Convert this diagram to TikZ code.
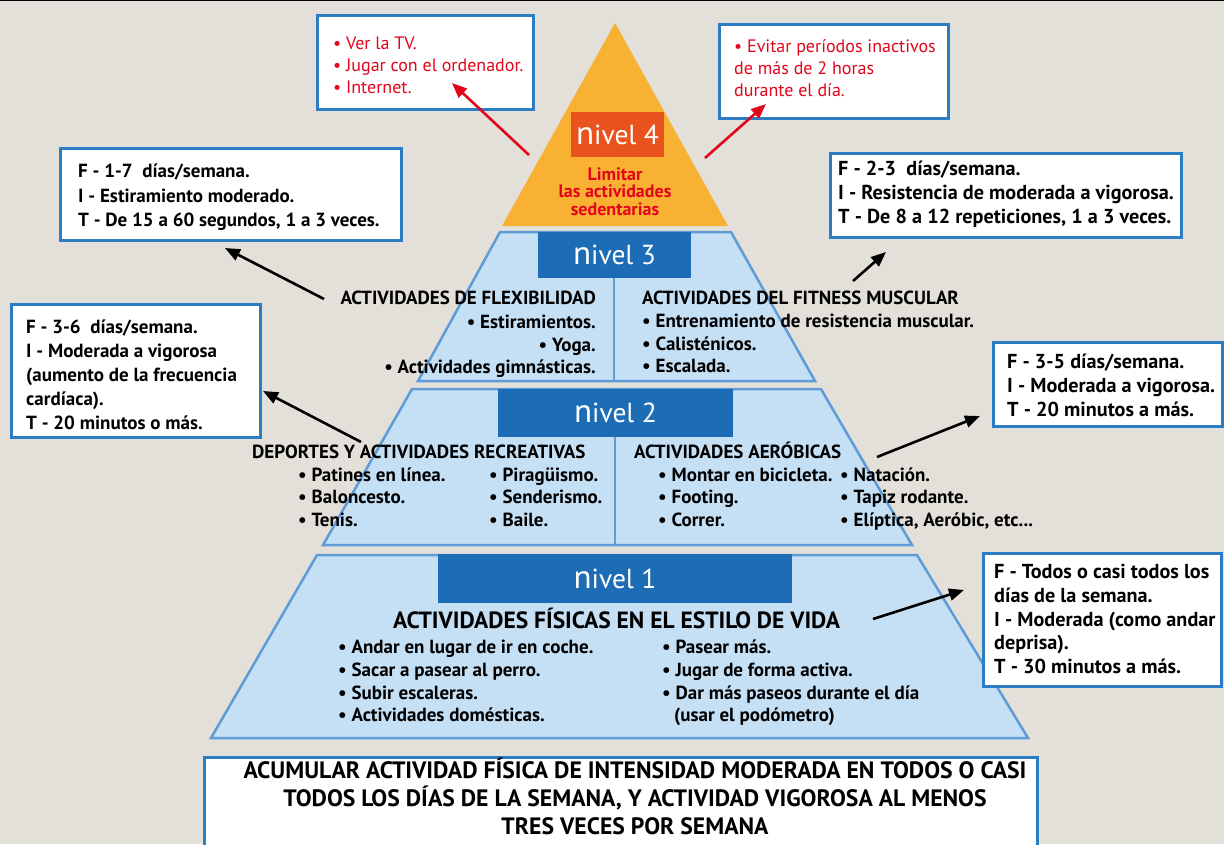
\documentclass[tikz,border=0pt]{standalone}
\usepackage{fontspec}
\setmainfont{PT Sans}
\usetikzlibrary{arrows.meta}
\definecolor{bgc}{HTML}{E3E0D9}
\definecolor{pyrfill}{HTML}{C5DFF4}
\definecolor{pyrline}{HTML}{5F9BD7}
\definecolor{nvblue}{HTML}{1C6DB6}
\definecolor{orng}{HTML}{F8B133}
\definecolor{nvred}{HTML}{E9531D}
\definecolor{redtxt}{HTML}{E3051B}
\definecolor{boxline}{HTML}{2D7DC4}
\newcommand\nivtxt[1]{{\fontsize{33}{33}\selectfont n}ivel #1}
\tikzset{
  callout/.style={draw=boxline, line width=3pt, fill=white, inner sep=0},
  lvl/.style={draw=pyrline, line width=2.5pt, fill=pyrfill, line join=miter},
  nvbox/.style={fill=nvblue, inner sep=0, text=white, font=\fontsize{27.5}{27.5}\selectfont},
  tb/.style={inner sep=0, text=black, font=\bfseries\fontsize{19}{19}\selectfont},
  tc/.style={inner sep=0, text=black, font=\bfseries\fontsize{19}{19}\selectfont},
  tw/.style={inner sep=0, text=black, font=\bfseries\fontsize{20.2}{20.2}\selectfont},
  tr/.style={inner sep=0, text=redtxt, font=\fontsize{18}{18}\selectfont},
  bw/.style={anchor=base west},
  be/.style={anchor=base east},
  bc/.style={anchor=base},
  arr/.style={-{Triangle[length=15pt,width=12pt]}, line width=2.6pt, black},
  rarr/.style={-{Triangle[length=15pt,width=12pt]}, line width=2.6pt, redtxt},
}
\begin{document}
\begin{tikzpicture}[x=1pt,y=-1pt]
\clip (0,0) rectangle (1224,844);
\fill[bgc] (0,0) rectangle (1224,844);
\draw[black, line width=2pt] (0,0) -- (1224,0);

% pyramid
\fill[orng] (615,23) -- (728,226) -- (502,226) -- cycle;
\draw[lvl] (500,232) -- (731,232) -- (815,381) -- (418,381) -- cycle;
\draw[lvl] (412,389) -- (821,389) -- (912,545) -- (323,545) -- cycle;
\draw[lvl] (317,555) -- (917,555) -- (1028,738) -- (211,738) -- cycle;
\draw[pyrline, line width=2pt] (614,278) -- (614,381);
\draw[pyrline, line width=2pt] (615,437) -- (615,545);

% nivel boxes
\node[nvbox, fill=nvred, minimum width=93, minimum height=45] (n4) at (617.5,134.5) {\nivtxt{4}};
\node[nvbox, minimum width=153, minimum height=46] (n3) at (614.5,255) {\nivtxt{3}};
\node[nvbox, minimum width=235, minimum height=48] (n2) at (615.5,413) {\nivtxt{2}};
\node[nvbox, minimum width=354, minimum height=49] (n1) at (615,578.5) {\nivtxt{1}};

% level 4 text
\node[tb, bc, text=redtxt, font=\bfseries\fontsize{18}{18}\selectfont] (l4a) at (615,180) {Limitar};
\node[tb, bc, text=redtxt, font=\bfseries\fontsize{18}{18}\selectfont] (l4b) at (615,197) {las actividades};
\node[tb, bc, text=redtxt, font=\bfseries\fontsize{18}{18}\selectfont] (l4c) at (615,215) {sedentarias};

% level 3 text
\node[tb, be] (l3l0) at (596,304) {ACTIVIDADES DE FLEXIBILIDAD};
\node[tb, be] (l3l1) at (596,328) {• Estiramientos.};
\node[tb, be] (l3l2) at (596,351) {• Yoga.};
\node[tb, be] (l3l3) at (596,373) {• Actividades gimnásticas.};
\node[tb, bw] (l3r0) at (642,304) {ACTIVIDADES DEL FITNESS MUSCULAR};
\node[tb, bw] (l3r1) at (642,327) {• Entrenamiento de resistencia muscular.};
\node[tb, bw] (l3r2) at (642,350) {• Calisténicos.};
\node[tb, bw] (l3r3) at (642,372) {• Escalada.};

% level 2 text
\node[tc, bw] (l2l0) at (252,458) {DEPORTES Y ACTIVIDADES RECREATIVAS};
\node[tc, bw] (l2a1) at (298,481) {• Patines en línea.};
\node[tc, bw] (l2a2) at (298,503) {• Baloncesto.};
\node[tc, bw] (l2a3) at (298,526) {• Tenis.};
\node[tc, bw] (l2b1) at (489,481) {• Piragüismo.};
\node[tc, bw] (l2b2) at (489,503) {• Senderismo.};
\node[tc, bw] (l2b3) at (489,526) {• Baile.};
\node[tc, bw] (l2r0) at (634,458) {ACTIVIDADES AERÓBICAS};
\node[tc, bw] (l2c1) at (658,481) {• Montar en bicicleta.};
\node[tc, bw] (l2c2) at (658,503) {• Footing.};
\node[tc, bw] (l2c3) at (658,526) {• Correr.};
\node[tc, bw] (l2d1) at (840,481) {• Natación.};
\node[tc, bw] (l2d2) at (840,503) {• Tapiz rodante.};
\node[tc, bw] (l2d3) at (840,526) {• Elíptica, Aeróbic, etc...};

% level 1 text
\node[tc, bc, font=\bfseries\fontsize{23.5}{23.5}\selectfont] (l1h) at (616.5,628) {ACTIVIDADES FÍSICAS EN EL ESTILO DE VIDA};
\node[tc, bw] (l1a1) at (338,653) {• Andar en lugar de ir en coche.};
\node[tc, bw] (l1a2) at (338,676) {• Sacar a pasear al perro.};
\node[tc, bw] (l1a3) at (338,699) {• Subir escaleras.};
\node[tc, bw] (l1a4) at (338,721) {• Actividades domésticas.};
\node[tc, bw] (l1b1) at (662,653) {• Pasear más.};
\node[tc, bw] (l1b2) at (662,676) {• Jugar de forma activa.};
\node[tc, bw] (l1b3) at (662,699) {• Dar más paseos durante el día};
\node[tc, bw] (l1b4) at (674,721) {(usar el podómetro)};

% bottom box
\node[callout, minimum width=833, minimum height=110, anchor=north west] (bot) at (203,756) {};
\node[tc, bc, font=\bfseries\fontsize{23.7}{23.7}\selectfont] (bt1) at (635,778) {ACUMULAR ACTIVIDAD FÍSICA DE INTENSIDAD MODERADA EN TODOS O CASI};
\node[tc, bc, font=\bfseries\fontsize{23.7}{23.7}\selectfont] (bt2) at (635,806) {TODOS LOS DÍAS DE LA SEMANA, Y ACTIVIDAD VIGOROSA AL MENOS};
\node[tc, bc, font=\bfseries\fontsize{23.7}{23.7}\selectfont] (bt3) at (635,834) {TRES VECES POR SEMANA};

% callout boxes
\node[callout, minimum width=216, minimum height=94] (b1) at (425,62) {};
\node[tr, bw] (b1t1) at (333,49) {• Ver la TV.};
\node[tr, bw] (b1t2) at (333,71) {• Jugar con el ordenador.};
\node[tr, bw] (b1t3) at (333,93) {• Internet.};

\node[callout, minimum width=229, minimum height=94] (b2) at (833.5,71) {};
\node[tr, bw] (b2t1) at (734,52) {• Evitar períodos inactivos};
\node[tr, bw] (b2t2) at (734,74) {de más de 2 horas};
\node[tr, bw] (b2t3) at (734,96) {durante el día.};

\node[callout, minimum width=341, minimum height=92] (b3) at (230.5,194) {};
\node[tb, bw] (b3t1) at (78,177) {F - 1-7 \ días/semana.};
\node[tb, bw] (b3t2) at (78,202) {I - Estiramiento moderado.};
\node[tb, bw] (b3t3) at (78,226) {T - De 15 a 60 segundos, 1 a 3 veces.};

\node[callout, minimum width=351, minimum height=84] (b4) at (1005.5,195) {};
\node[tw, bw] (b4t1) at (838,175) {F - 2-3 \ días/semana.};
\node[tw, bw] (b4t2) at (838,199) {I - Resistencia de moderada a vigorosa.};
\node[tw, bw] (b4t3) at (838,223) {T - De 8 a 12 repeticiones, 1 a 3 veces.};

\node[callout, minimum width=249, minimum height=133] (b5) at (135.5,371) {};
\node[tb, bw] (b5t1) at (26,333) {F - 3-6 \ días/semana.};
\node[tb, bw] (b5t2) at (26,357) {I - Moderada a vigorosa};
\node[tb, bw] (b5t3) at (26,381) {(aumento de la frecuencia};
\node[tb, bw] (b5t4) at (26,405) {cardíaca).};
\node[tb, bw] (b5t5) at (26,429) {T - 20 minutos o más.};

\node[callout, minimum width=229, minimum height=84] (b6) at (1107.5,384) {};
\node[tw, bw] (b6t1) at (1007,368) {F - 3-5 días/semana.};
\node[tw, bw] (b6t2) at (1007,392) {I - Moderada a vigorosa.};
\node[tw, bw] (b6t3) at (1007,416) {T - 20 minutos a más.};

\node[callout, minimum width=238, minimum height=133] (b7) at (1102,619.5) {};
\node[tw, bw] (b7t1) at (994,578) {F - Todos o casi todos los};
\node[tw, bw] (b7t2) at (994,602) {días de la semana.};
\node[tw, bw] (b7t3) at (994,626) {I - Moderada (como andar};
\node[tw, bw] (b7t4) at (994,649) {deprisa).};
\node[tw, bw] (b7t5) at (994,673) {T - 30 minutos a más.};

% arrows
\coordinate (r1s) at (529,155); \coordinate (r1e) at (452,83);
\coordinate (r2s) at (705,158); \coordinate (r2e) at (766,104);
\coordinate (a3s) at (324,299); \coordinate (a3e) at (225,248);
\coordinate (a4s) at (853,281); \coordinate (a4e) at (886,252);
\coordinate (a5s) at (361,442); \coordinate (a5e) at (263,391);
\coordinate (a6s) at (877,457); \coordinate (a6e) at (980,416);
\coordinate (a7s) at (873,619); \coordinate (a7e) at (964,590);
\draw[rarr] (r1s) -- (r1e);
\draw[rarr] (r2s) -- (r2e);
\draw[arr] (a3s) -- (a3e);
\draw[arr] (a4s) -- (a4e);
\draw[arr] (a5s) -- (a5e);
\draw[arr] (a6s) -- (a6e);
\draw[arr] (a7s) -- (a7e);
\end{tikzpicture}
\end{document}
